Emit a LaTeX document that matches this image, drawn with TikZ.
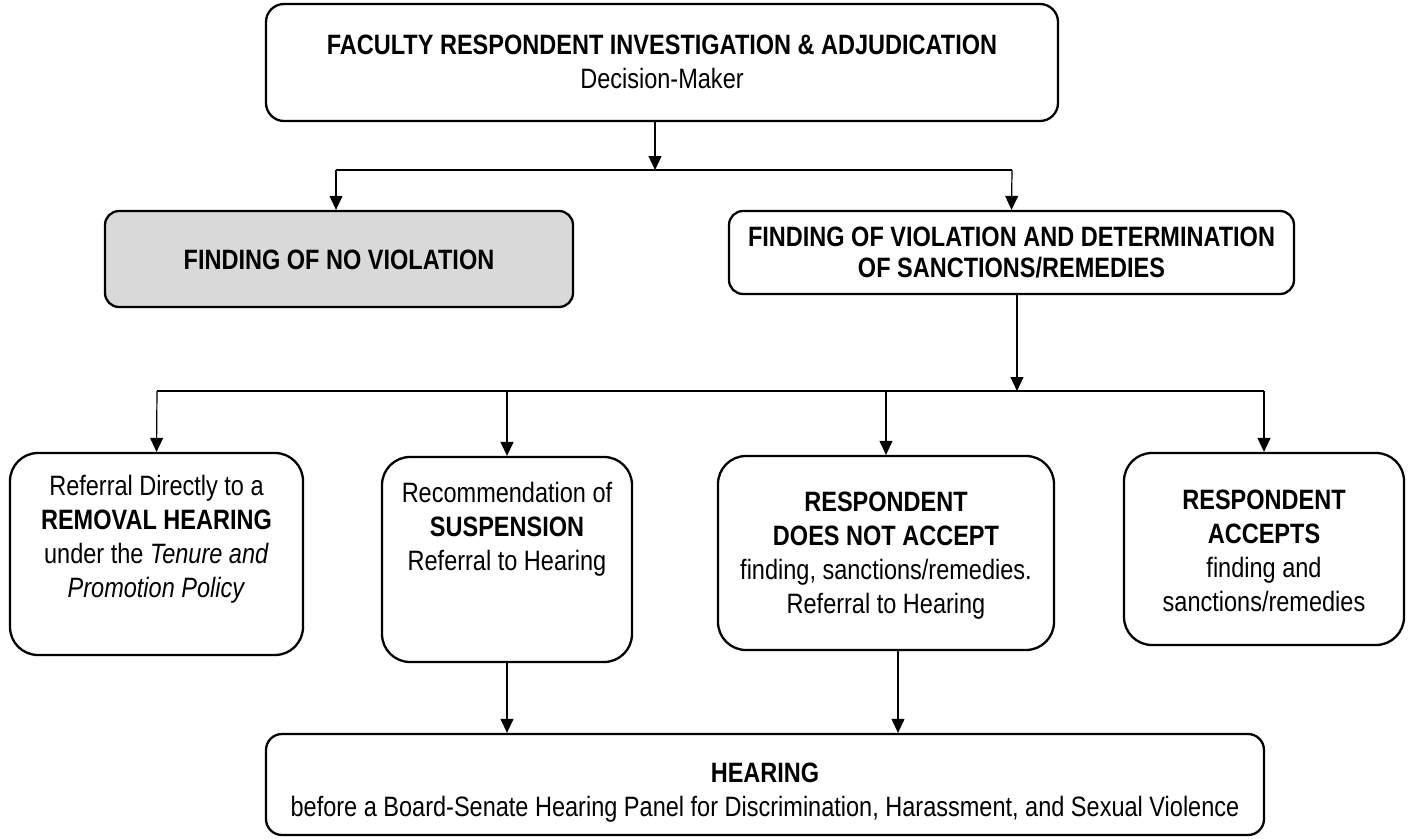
\documentclass[tikz,border=0pt]{standalone}
\usepackage{fontspec}
\setmainfont{Liberation Sans}[FakeStretch=0.84]
\usetikzlibrary{arrows.meta}
\begin{document}
\begin{tikzpicture}[x=1pt,y=-1pt,
  box/.style={draw=black, line width=2.3pt, inner sep=0pt},
  txt/.style={inner sep=0pt, align=center, anchor=north,
    font=\fontsize{28}{34}\selectfont},
  conn/.style={draw=black, line width=1.2pt},
  arrow/.style={conn, -{Triangle[length=14pt, width=13pt]}}]
\useasboundingbox (0,0) rectangle (1410,838);

% boxes
\node[box, rounded corners=18pt, minimum width=792pt, minimum height=117pt] (top) at (662,62.5) {};
\node[box, rounded corners=14pt, fill={rgb,255:red,217;green,217;blue,217}, minimum width=468pt, minimum height=96pt] (nov) at (339,259) {};
\node[box, rounded corners=14pt, minimum width=565pt, minimum height=83pt] (viol) at (1011.5,252.5) {};
\node[box, rounded corners=28pt, minimum width=293pt, minimum height=202pt] (rem) at (156.5,554) {};
\node[box, rounded corners=28pt, minimum width=250pt, minimum height=205pt] (susp) at (507,559.5) {};
\node[box, rounded corners=28pt, minimum width=336pt, minimum height=194pt] (rej) at (886,553) {};
\node[box, rounded corners=28pt, minimum width=280pt, minimum height=192pt] (acc) at (1264,549) {};
\node[box, rounded corners=16pt, minimum width=998pt, minimum height=101pt] (hear) at (765,784.5) {};

% texts
\node[txt] (top-t) at (662,35) {\textbf{FACULTY RESPONDENT INVESTIGATION \& ADJUDICATION}\\Decision-Maker};
\node[txt] (nov-t) at (339,250) {\textbf{FINDING OF NO VIOLATION}};
\node[txt, font=\fontsize{28}{31}\selectfont] (viol-t) at (1011.5,227) {\textbf{FINDING OF VIOLATION AND DETERMINATION}\\\textbf{OF SANCTIONS/REMEDIES}};
\node[txt] (rem-t) at (156.5,475) {Referral Directly to a\\\textbf{REMOVAL HEARING}\\under the \textit{Tenure and}\\\textit{Promotion Policy}};
\node[txt] (susp-t) at (507,482) {Recommendation of\\\textbf{SUSPENSION}\\Referral to Hearing};
\node[txt] (rej-t) at (886,492) {\textbf{RESPONDENT}\\\textbf{DOES NOT ACCEPT}\\finding, sanctions/remedies.\\Referral to Hearing};
\node[txt] (acc-t) at (1264,490) {\textbf{RESPONDENT}\\\textbf{ACCEPTS}\\finding and\\sanctions/remedies};
\node[txt] (hear-t) at (765,763) {\textbf{HEARING}\\before a Board-Senate Hearing Panel for Discrimination, Harassment, and Sexual Violence};

% junction points
\coordinate (j1) at (655,170);
\coordinate (j1l) at (336,170);
\coordinate (j1r) at (1012,170);
\coordinate (j2) at (1017,391);
\coordinate (j2l) at (157,391);
\coordinate (j2r) at (1264,391);
\coordinate (rejx) at (898,650);

% first split
\draw[arrow] (top.south -| j1) -- (j1);
\draw[conn] (j1l) -- (j1r);
\draw[arrow] (j1l) -- (j1l |- nov.north);
\draw[arrow] (j1r) -- (viol.north);

% second split
\draw[arrow] (viol.south -| j2) -- (j2);
\draw[conn] (j2l) -- (j2r);
\draw[arrow] (j2l) -- (rem.north);
\draw[arrow] (susp.north |- j2l) -- (susp.north);
\draw[arrow] (rej.north |- j2l) -- (rej.north);
\draw[arrow] (j2r) -- (acc.north);

% into the hearing
\draw[arrow] (susp.south) -- (susp.south |- hear.north);
\draw[arrow] (rej.south -| rejx) -- (rejx |- hear.north);
\end{tikzpicture}
\end{document}
